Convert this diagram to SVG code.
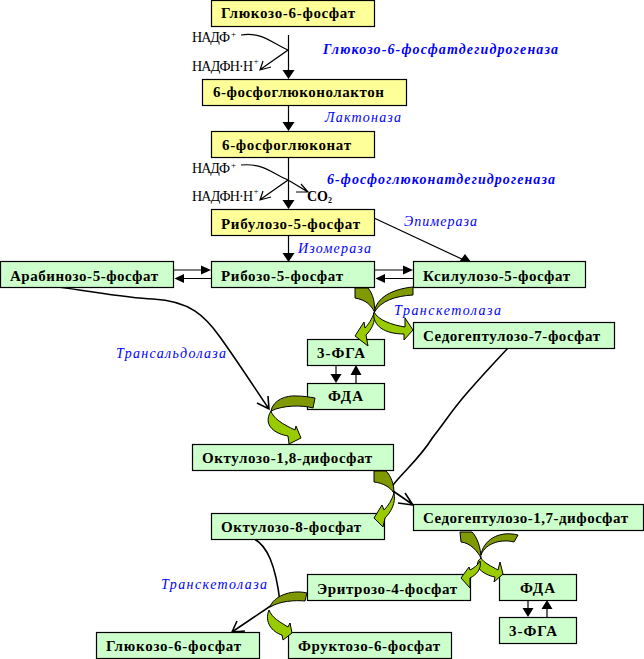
<svg xmlns="http://www.w3.org/2000/svg" width="644" height="659" viewBox="0 0 644 659">
<style>
.y{fill:#ffff99;stroke:#000;stroke-width:1.2}
.g{fill:#ccffcc;stroke:#000;stroke-width:1.2}
.t{font:bold 15px "Liberation Serif","Times New Roman",serif;fill:#000}
.c{font:14px "Liberation Serif","Times New Roman",serif;fill:#000}
.s{font:9px "Liberation Serif","Times New Roman",serif;fill:#000}
.e{font:italic 14px "Liberation Serif","Times New Roman",serif;fill:#0000ff}
.eb{font:italic bold 14px "Liberation Serif","Times New Roman",serif;fill:#0000ff}
.l{fill:none;stroke:#000;stroke-width:1.2}
.th{fill:none;stroke:#000;stroke-width:1.6}
.h{fill:#000;stroke:none}
.d{fill:#7f9900;stroke:#000;stroke-width:1}
.m{fill:#99cc00;stroke:#000;stroke-width:1}
</style>
<g id="connectors">
<path class="l" d="M288.500,35V72M288.500,105V124M288.500,157V202M288.500,235V255M174,270H204M211,278.500H182M374,270H406M413,278.500H383M336,365V376M356,383V373M528,600V610M547,617V607"/>
<path class="h" d="M282.500,70H294.500L288.500,79ZM282.500,122H294.500L288.500,131ZM282.500,200H294.500L288.500,209ZM282.500,253H294.500L288.500,262ZM201,265.500L211,270L201,274.500ZM184,274V283L174.500,278.500ZM403,265.500L413,270L403,274.500ZM385,274V283L375.500,278.500ZM330.500,374H341.500L336,383ZM350.500,375H361.500L356,365ZM522.500,608H533.500L528,617ZM541.500,609H552.500L547,600Z"/>
<path class="l" d="M241,35C262,32 270,42 288,50L261,69M263,61L260,70L271,67"/>
<path class="l" d="M241,165C262,163 270,172 288,180L261,199M263,191L260,200L271,197M288,180L308,192H296M301,184L308,192"/>
<path class="l" d="M374,218L466,261"/>
<path class="h" d="M465,254L459,262H471Z"/>
<path class="th" d="M58,287C90,291 125,298 153,299C190,301 205,316 220,337C240,365 256,390 269,409M268,396L269,409L257,403"/>
<path class="th" d="M508,348C492,365 480,378 467,393C452,410 445,422 433,437C420,458 405,470 393,485L393,491L412,504M405,493L413,505L398,503"/>
<path class="th" d="M250,537C268,543 276,568 280,602"/>
<path class="th" d="M272,605L232,632M237,621L232,632L245,631"/>
</g>
<g id="n1"><rect class="y" x="211.500" y="0.500" width="163" height="26"/><text class="t" x="221" y="18" textLength="134">Глюкозо-6-фосфат</text></g>
<g id="n2"><rect class="y" x="202.500" y="79.500" width="204" height="26"/><text class="t" x="213" y="97" textLength="171">6-фосфоглюконолактон</text></g>
<g id="n3"><rect class="y" x="211.500" y="131.500" width="163" height="26"/><text class="t" x="222" y="150" textLength="129">6-фосфоглюконат</text></g>
<g id="n4"><rect class="y" x="211.500" y="209.500" width="163" height="26"/><text class="t" x="221" y="229" textLength="139">Рибулозо-5-фосфат</text></g>
<g id="n5"><rect class="g" x="0.500" y="261.500" width="173" height="26"/><text class="t" x="10" y="281" textLength="148">Арабинозо-5-фосфат</text></g>
<g id="n6"><rect class="g" x="211.500" y="261.500" width="163" height="26"/><text class="t" x="221" y="281" textLength="122">Рибозо-5-фосфат</text></g>
<g id="n7"><rect class="g" x="413.500" y="261.500" width="172" height="26"/><text class="t" x="423" y="281" textLength="147">Ксилулозо-5-фосфат</text></g>
<g id="n8"><rect class="g" x="413.500" y="322.500" width="201" height="26"/><text class="t" x="423" y="341" textLength="177">Седогептулозо-7-фосфат</text></g>
<g id="n9"><rect class="g" x="307.500" y="339.500" width="77" height="26"/><text class="t" x="317" y="358" textLength="48">3-ФГА</text></g>
<g id="n10"><rect class="g" x="307.500" y="383.500" width="77" height="26"/><text class="t" x="328" y="401" textLength="35">ФДА</text></g>
<g id="n11"><rect class="g" x="192.500" y="444.500" width="201" height="26"/><text class="t" x="202" y="463" textLength="170">Октулозо-1,8-дифосфат</text></g>
<g id="n12"><rect class="g" x="413.500" y="504.500" width="230" height="26"/><text class="t" x="423" y="523" textLength="205">Седогептулозо-1,7-дифосфат</text></g>
<g id="n13"><rect class="g" x="211.500" y="513.500" width="173" height="26"/><text class="t" x="221" y="532" textLength="140">Октулозо-8-фосфат</text></g>
<g id="n14"><rect class="g" x="307.500" y="574.500" width="163" height="26"/><text class="t" x="317" y="594" textLength="140">Эритрозо-4-фосфат</text></g>
<g id="n15"><rect class="g" x="499.500" y="574.500" width="77" height="26"/><text class="t" x="520" y="593" textLength="35">ФДА</text></g>
<g id="n16"><rect class="g" x="499.500" y="617.500" width="77" height="26"/><text class="t" x="509" y="636" textLength="48">3-ФГА</text></g>
<g id="n17"><rect class="g" x="96.500" y="632.500" width="163" height="26"/><text class="t" x="106" y="651" textLength="135">Глюкозо-6-фосфат</text></g>
<g id="n18"><rect class="g" x="288.500" y="632.500" width="163" height="26"/><text class="t" x="298" y="651" textLength="142">Фруктозо-6-фосфат</text></g>
<g id="arrows-green">
<path class="d" d="M355,288H368C373,294 375,302 374.500,312C371,305 366,300 355,298Z"/>
<path class="m" d="M374,313C376,322 371,330 366,335L368,346L355,336L364,322L365,328C368,325 372,319 374,313Z"/>
<path class="d" d="M413,287V295C395,296 381,301 374.500,312C376,298 392,289 413,287Z"/>
<path class="m" d="M374,312C378,320 392,325 405,327V318L413,330L404,340V334C385,334 372,326 374,312Z"/>
<path class="d" d="M315,398L313,408C303,405 283,405 271,411C273,400 286,395 297,396C303,396 309,397 315,398Z"/>
<path class="m" d="M271,411C273,418 282,424 295,430L296,426L301,438L289,444L288,436C276,434 262,426 271,411Z"/>
<path class="d" d="M374,471H386C391,476 394,484 394,493C390,487 383,483 374,482Z"/>
<path class="m" d="M394,493C396,503 391,512 385,518L383,527L374,518L382,505L384,510C388,506 392,500 394,493Z"/>
<path class="d" d="M460,532H472C477,537 481,548 481,558C478,552 471,543 461,542Z"/>
<path class="d" d="M518,535L514,542C503,539 486,542 481,555C483,541 498,530 518,535Z"/>
<path class="m" d="M481,558C484,563 491,566 498,570L500,562L503,574L494,582L495,577C484,575 471,566 481,558Z"/>
<path class="m" d="M480,561C482,569 476,575 470,578L470,588L461,578L469,567L470,570C474,568 478,565 480,561Z"/>
<path class="d" d="M307,593L305,601C295,600 280,601 270,607C273,597 290,589 307,593Z"/>
<path class="m" d="M269,610C272,618 280,622 288,627L290,623L292,633L283,640L282,635C272,632 264,622 269,610Z"/>
</g>
<g id="labels">
<text class="c" x="192" y="42" textLength="38">НАДФ</text><text class="s" x="231" y="37">+</text>
<text class="c" x="192" y="71" textLength="61">НАДФН·Н</text><text class="s" x="253.500" y="64">+</text>
<text class="c" x="192" y="173" textLength="38">НАДФ</text><text class="s" x="231" y="168">+</text>
<text class="c" x="192" y="201" textLength="61">НАДФН·Н</text><text class="s" x="253.500" y="194">+</text>
<text class="t" x="307" y="201" style="font-size:14px">CO<tspan style="font-size:8px" dy="2">2</tspan></text>
<text class="eb" x="323" y="54" textLength="235">Глюкозо-6-фосфатдегидрогеназа</text>
<text class="e" x="325" y="122" textLength="76">Лактоназа</text>
<text class="eb" x="327" y="184" textLength="228">6-фосфоглюконатдегидрогеназа</text>
<text class="e" x="404" y="226" textLength="73">Эпимераза</text>
<text class="e" x="298" y="253" textLength="73">Изомераза</text>
<text class="e" x="394" y="315" textLength="107">Транскетолаза</text>
<text class="e" x="116" y="358" textLength="110">Трансальдолаза</text>
<text class="e" x="161" y="589" textLength="106">Транскетолаза</text>
</g>
</svg>
